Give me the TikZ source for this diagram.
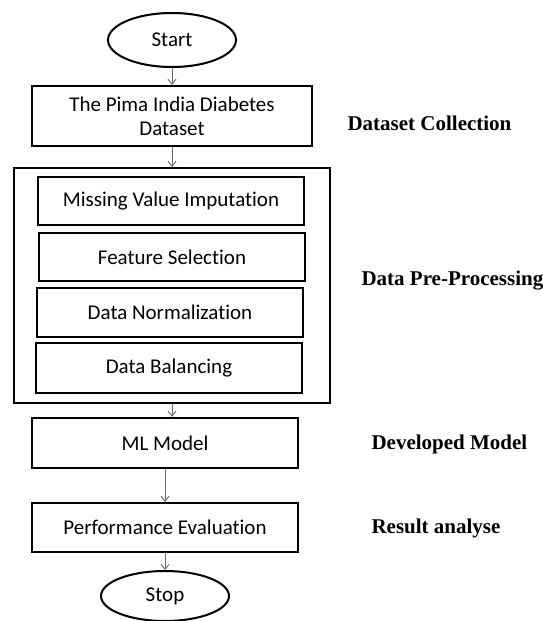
\documentclass[tikz,border=0pt]{standalone}
\usepackage{fontspec}
\setmainfont{Carlito}[Ligatures=NoCommon]
\newfontfamily\labelfont{Liberation Serif}
\usetikzlibrary{shapes.geometric, arrows.meta, positioning}

\begin{document}
\begin{tikzpicture}[x=1pt, y=-1pt,
	every node/.style={font=\fontsize{21}{24}\selectfont},
	stepbox/.style={draw, line width=2.2pt, minimum width=266pt, minimum height=49pt, inner sep=0pt},
	term/.style={draw, ellipse, line width=2pt, minimum width=128pt, minimum height=54pt, inner sep=0pt},
	phase/.style={anchor=base west, font=\labelfont\bfseries\fontsize{21}{24}\selectfont},
	flow/.style={draw=black!60, line width=0.9pt, -{Straight Barb[length=5pt, width=8pt]}}]
	\useasboundingbox (0, 0) rectangle (543, 621);
	% flow chart
	\node[term] (start) at (172, 40) {Start};
	\node[stepbox, minimum width=280pt, minimum height=60pt, align=center] (pima) at (172, 116) {The Pima India Diabetes\\Dataset};
	\node[draw, line width=2.2pt, minimum width=316pt, minimum height=235pt] (prep) at (172, 285.5) {};
	\node[stepbox, minimum height=48pt] (impute) at (171, 201) {Missing Value Imputation};
	\node[stepbox, minimum height=48pt] (select) at (172, 257) {Feature Selection};
	\node[stepbox] (norm) at (170, 312.5) {Data Normalization};
	\node[stepbox, minimum height=50pt] (balance) at (169, 368) {Data Balancing};
	\node[stepbox, minimum height=50pt] (model) at (165, 443) {ML Model};
	\node[stepbox] (perf) at (165, 527.5) {Performance Evaluation};
	\node[term, minimum height=50pt] (stop) at (165, 596) {Stop};
	% phases
	\node[phase] (collect) at (344, 130) {Dataset Collection};
	\node[phase] (preproc) at (358, 285) {Data Pre-Processing};
	\node[phase] (develop) at (368, 449) {Developed Model};
	\node[phase] (result) at (368, 533) {Result analyse};
	% arrows
	\draw[flow] (start) -- (pima);
	\draw[flow] (pima) -- (prep);
	\draw[flow] (prep.south) -- (prep.south |- model.north);
	\draw[flow] (model) -- (perf);
	\draw[flow] (perf) -- (stop);
\end{tikzpicture}
\end{document}
